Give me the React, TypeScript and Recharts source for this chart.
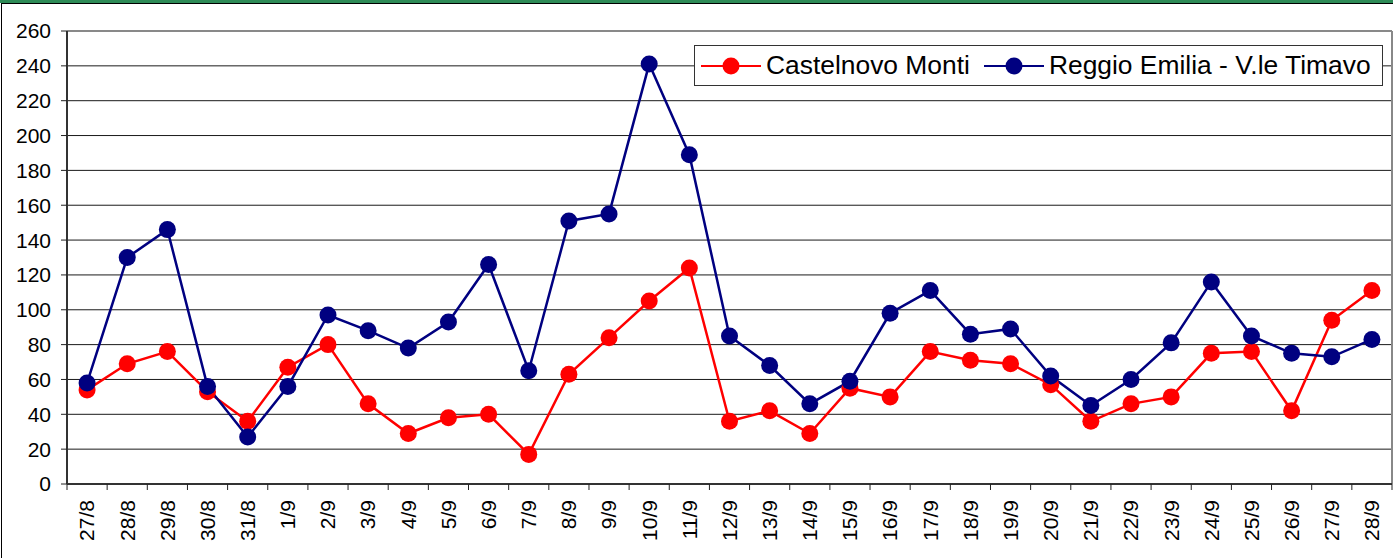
import { LineChart, Line, XAxis, YAxis, CartesianGrid, ReferenceLine } from "recharts";

const categories = [
  "27/8", "28/8", "29/8", "30/8", "31/8", "1/9", "2/9", "3/9", "4/9", "5/9", "6/9",
  "7/9", "8/9", "9/9", "10/9", "11/9", "12/9", "13/9", "14/9", "15/9", "16/9", "17/9",
  "18/9", "19/9", "20/9", "21/9", "22/9", "23/9", "24/9", "25/9", "26/9", "27/9", "28/9",
];
const castelnovo = [
  54, 69, 76, 53, 36, 67, 80, 46, 29, 38, 40, 17, 63, 84, 105, 124, 36, 42, 29, 55, 50,
  76, 71, 69, 57, 36, 46, 50, 75, 76, 42, 94, 111,
];
const reggio = [
  58, 130, 146, 56, 27, 56, 97, 88, 78, 93, 126, 65, 151, 155, 241, 189, 85, 68, 46, 59, 98,
  111, 86, 89, 62, 45, 60, 81, 116, 85, 75, 73, 83,
];
const yTicks = [0, 20, 40, 60, 80, 100, 120, 140, 160, 180, 200, 220, 240, 260];
const seriesNames = ["Castelnovo Monti", "Reggio Emilia - V.le Timavo"];

const RED = "#ff0000";
const NAVY = "#000080";
const FONT = "'Liberation Sans', Arial, sans-serif";

const W = 1393;
const H = 558;
const PLOT_LEFT = 67;
const PLOT_RIGHT = 1392;
const STEP = (PLOT_RIGHT - PLOT_LEFT) / categories.length;

const data = categories.map((c, i) => ({ i, label: c, castelnovo: castelnovo[i], reggio: reggio[i] }));

function XTick(props: any) {
  const { x, y, payload } = props;
  const i = payload.value as number;
  const ty = y + 16;
  return (
    <g>
      <line x1={x - STEP / 2} y1={y} x2={x - STEP / 2} y2={y + 6} stroke="#222" strokeWidth={1} />
      {i === categories.length - 1 && (
        <line x1={x + STEP / 2} y1={y} x2={x + STEP / 2} y2={y + 6} stroke="#222" strokeWidth={1} />
      )}
      <text
        x={x}
        y={ty}
        dy="0.35em"
        transform={`rotate(-90, ${x}, ${ty})`}
        textAnchor="end"
        fontSize={21}
        fontFamily={FONT}
        fill="#000"
      >
        {categories[i]}
      </text>
    </g>
  );
}

function LegendItem({ color, name }: { color: string; name: string }) {
  return (
    <div style={{ display: "flex", alignItems: "center" }}>
      <svg width={60} height={24} style={{ marginRight: 5 }}>
        <line x1={0} y1={12} x2={60} y2={12} stroke={color} strokeWidth={2} />
        <circle cx={30} cy={12} r={8.5} fill={color} />
      </svg>
      <span style={{ fontSize: 26.4, fontFamily: FONT, color: "#000", whiteSpace: "nowrap" }}>{name}</span>
    </div>
  );
}

export default function App() {
  return (
    <div style={{ position: "absolute", left: 0, top: 0, width: W, height: H, background: "#fff", overflow: "hidden" }}>
      <div style={{ position: "absolute", left: 0, top: 0, width: W, height: 3, background: "#2e8b57" }} />
      <div
        style={{
          position: "absolute",
          left: 1,
          top: 3,
          width: W,
          height: H,
          borderTop: "1px solid #000",
          borderLeft: "1px solid #000",
        }}
      />
      <div style={{ position: "absolute", left: 0, top: 0 }}>
        <LineChart width={W} height={H} data={data} margin={{ top: 31, right: W - PLOT_RIGHT, bottom: 0, left: 0 }}>
          <CartesianGrid vertical={false} stroke="#1a1a1a" strokeWidth={1} />
          <XAxis
            type="number"
            dataKey="i"
            domain={[-0.5, categories.length - 0.5]}
            ticks={categories.map((_, i) => i)}
            interval={0}
            height={74}
            tickSize={0}
            tickMargin={0}
            tickLine={false}
            axisLine={{ stroke: "#333", strokeWidth: 2 }}
            tick={<XTick />}
          />
          <YAxis
            domain={[0, 260]}
            ticks={yTicks}
            interval={0}
            width={PLOT_LEFT}
            tickSize={6}
            tickMargin={10}
            tickLine={{ stroke: "#222" }}
            axisLine={{ stroke: "#333", strokeWidth: 2 }}
            tick={{ fill: "#000", fontSize: 21, fontFamily: FONT }}
          />
          <ReferenceLine y={260} stroke="#888" strokeWidth={1.5} />
          <ReferenceLine x={categories.length - 0.5} stroke="#888" strokeWidth={2} />
          <Line
            dataKey="castelnovo"
            name={seriesNames[0]}
            type="linear"
            stroke={RED}
            strokeWidth={2.5}
            dot={{ r: 8.5, fill: RED, stroke: RED, strokeWidth: 0 }}
            activeDot={false}
            isAnimationActive={false}
          />
          <Line
            dataKey="reggio"
            name={seriesNames[1]}
            type="linear"
            stroke={NAVY}
            strokeWidth={2.5}
            dot={{ r: 8.5, fill: NAVY, stroke: NAVY, strokeWidth: 0 }}
            activeDot={false}
            isAnimationActive={false}
          />
        </LineChart>
      </div>
      <div
        style={{
          position: "absolute",
          left: 694,
          top: 45,
          width: 689,
          height: 41,
          boxSizing: "border-box",
          border: "1px solid #333",
          background: "#fff",
          display: "flex",
          alignItems: "center",
          paddingLeft: 6,
          gap: 14,
        }}
      >
        <LegendItem color={RED} name={seriesNames[0]} />
        <LegendItem color={NAVY} name={seriesNames[1]} />
      </div>
    </div>
  );
}
